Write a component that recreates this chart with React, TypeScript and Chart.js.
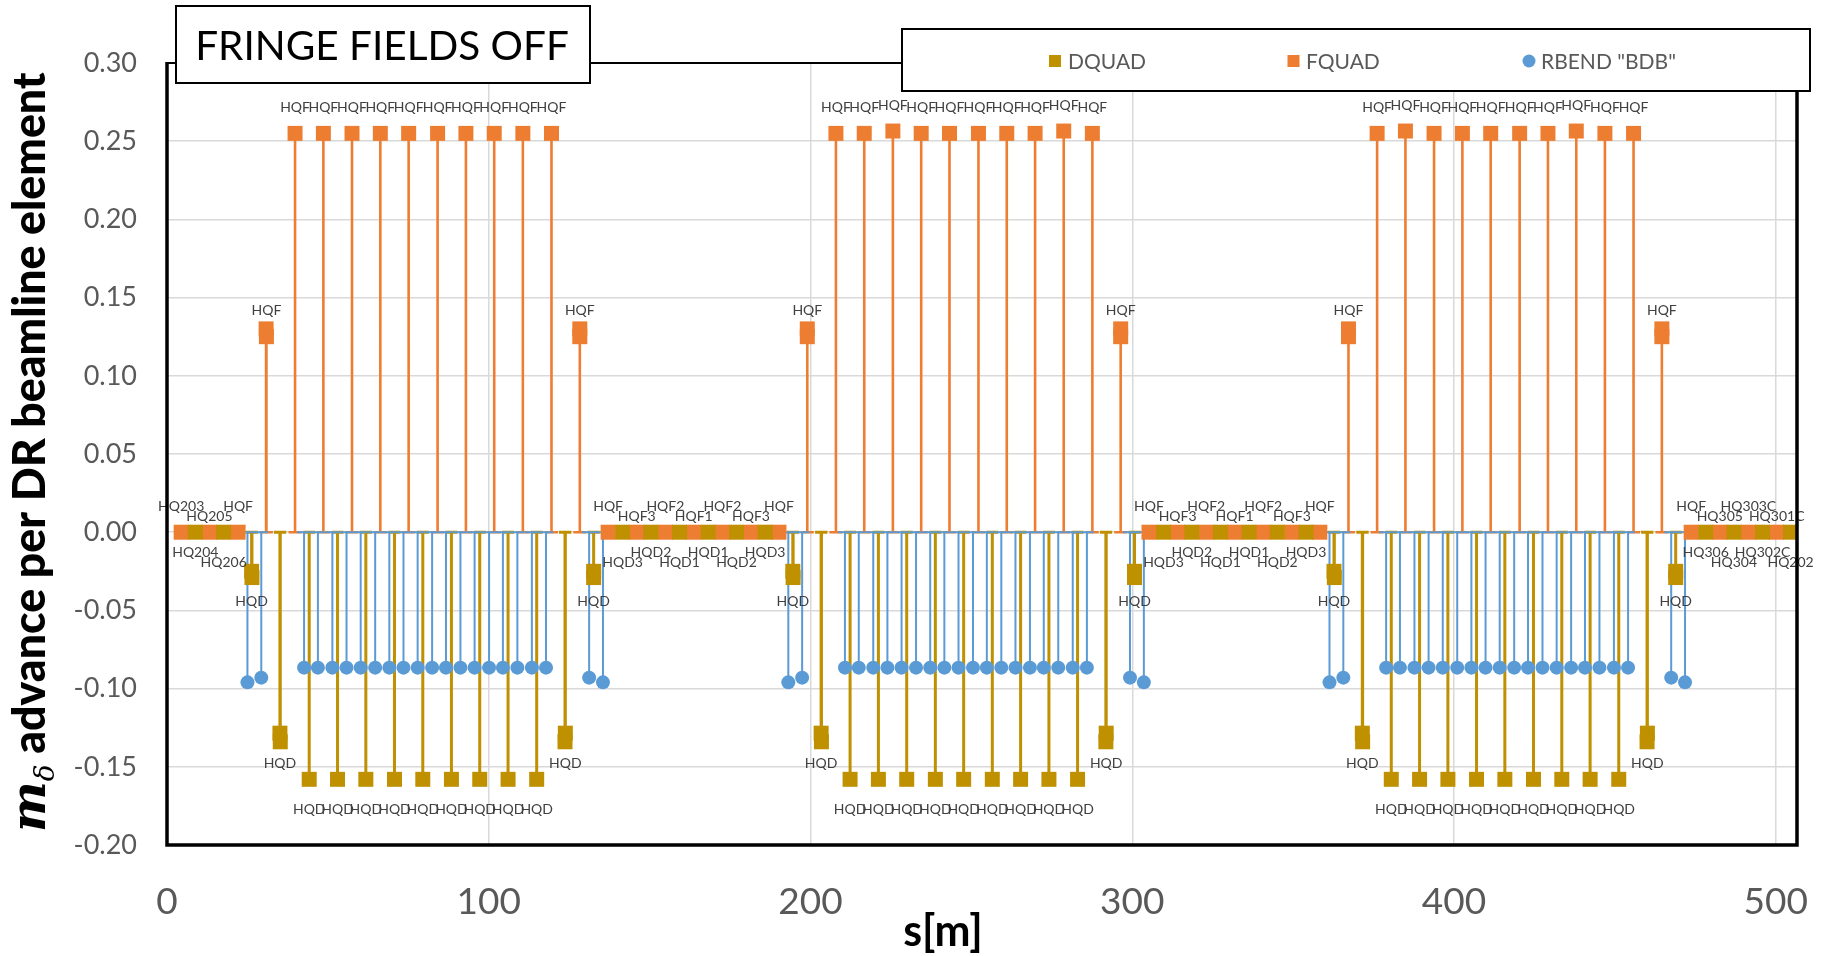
import React, { useEffect, useRef } from "react";
import { Chart, registerables } from "chart.js";

Chart.register(...registerables);

// ---------------- data ----------------
const xTickValues = [0, 100, 200, 300, 400, 500];
const yTickValues = [-0.2, -0.15, -0.1, -0.05, 0, 0.05, 0.1, 0.15, 0.2, 0.25, 0.3];

const seriesNames = ["DQUAD", "FQUAD", 'RBEND "BDB"'];
const chartTitle = "FRINGE FIELDS OFF";
const xTitle = "s[m]";
const yTitleSymbol = "m";
const yTitleSub = "δ";
const yTitleRest = " advance per DR beamline element";

// DQUAD (defocusing quads)
const dquadS = [
  8.8, 17.6,
  26.3, 26.4, 35.1, 35.2,
  44.2, 53.0, 61.8, 70.7, 79.5, 88.4, 97.2, 106.0, 114.9,
  123.8, 123.7, 132.6, 132.6,
  141.6, 150.4, 159.3, 168.2, 177.0, 185.9,
  194.5, 194.6, 203.3, 203.4,
  212.3, 221.1, 229.9, 238.8, 247.6, 256.5, 265.3, 274.1, 283.0,
  291.9, 291.8, 300.7, 300.7,
  309.7, 318.5, 327.4, 336.3, 345.1, 354.0,
  362.7, 362.8, 371.5, 371.6,
  380.5, 389.3, 398.1, 407.0, 415.8, 424.7, 433.5, 442.3, 451.2,
  460.1, 460.0, 468.9, 468.9,
  478.2, 487.0, 495.9, 504.6,
];
const dquadM = [
  0, 0,
  -0.025, -0.029, -0.1285, -0.134,
  -0.158, -0.158, -0.158, -0.158, -0.158, -0.158, -0.158, -0.158, -0.158,
  -0.1285, -0.134, -0.025, -0.029,
  0, 0, 0, 0, 0, 0,
  -0.025, -0.029, -0.1285, -0.134,
  -0.158, -0.158, -0.158, -0.158, -0.158, -0.158, -0.158, -0.158, -0.158,
  -0.1285, -0.134, -0.025, -0.029,
  0, 0, 0, 0, 0, 0,
  -0.025, -0.029, -0.1285, -0.134,
  -0.158, -0.158, -0.158, -0.158, -0.158, -0.158, -0.158, -0.158, -0.158,
  -0.1285, -0.134, -0.025, -0.029,
  0, 0, 0, 0,
];
const dquadNames = [
  "HQ204", "HQ206",
  "HQD", "", "HQD", "",
  "HQD", "HQD", "HQD", "HQD", "HQD", "HQD", "HQD", "HQD", "HQD",
  "HQD", "", "HQD", "",
  "HQD3", "HQD2", "HQD1", "HQD1", "HQD2", "HQD3",
  "HQD", "", "HQD", "",
  "HQD", "HQD", "HQD", "HQD", "HQD", "HQD", "HQD", "HQD", "HQD",
  "HQD", "", "HQD", "",
  "HQD3", "HQD2", "HQD1", "HQD1", "HQD2", "HQD3",
  "HQD", "", "HQD", "",
  "HQD", "HQD", "HQD", "HQD", "HQD", "HQD", "HQD", "HQD", "HQD",
  "HQD", "", "HQD", "",
  "HQ306", "HQ304", "HQ302C", "HQ202",
];
// label row: 1 = label sits closer to its marker (staggered labels)
const dquadLabelRows = [
  1, 0,
  0, 0, 0, 0,
  0, 0, 0, 0, 0, 0, 0, 0, 0,
  0, 0, 0, 0,
  0, 1, 0, 1, 0, 1,
  0, 0, 0, 0,
  0, 0, 0, 0, 0, 0, 0, 0, 0,
  0, 0, 0, 0,
  0, 1, 0, 1, 0, 1,
  0, 0, 0, 0,
  0, 0, 0, 0, 0, 0, 0, 0, 0,
  0, 0, 0, 0,
  1, 0, 1, 0,
];

// FQUAD (focusing quads)
const fquadS = [
  4.4, 13.2, 22.1,
  30.8, 30.9,
  39.8, 48.6, 57.5, 66.3, 75.1, 84.1, 92.9, 101.7, 110.6, 119.5,
  128.3, 128.3,
  137.1, 146.0, 154.9, 163.7, 172.6, 181.5, 190.2,
  199.0, 199.0,
  207.9, 216.7, 225.6, 234.4, 243.2, 252.2, 261.0, 269.8, 278.7, 287.6,
  296.4, 296.4,
  305.2, 314.1, 323.0, 331.8, 340.7, 349.6, 358.3,
  367.2, 367.2,
  376.1, 384.9, 393.8, 402.6, 411.4, 420.4, 429.2, 438.0, 446.9, 455.8,
  464.6, 464.6,
  473.7, 482.6, 491.5, 500.3,
];
const fquadM = [
  0, 0, 0,
  0.13, 0.125,
  0.255, 0.255, 0.255, 0.255, 0.255, 0.255, 0.255, 0.255, 0.255, 0.255,
  0.13, 0.125,
  0, 0, 0, 0, 0, 0, 0,
  0.13, 0.125,
  0.255, 0.255, 0.2565, 0.255, 0.255, 0.255, 0.255, 0.255, 0.2565, 0.255,
  0.13, 0.125,
  0, 0, 0, 0, 0, 0, 0,
  0.13, 0.125,
  0.255, 0.2565, 0.255, 0.255, 0.255, 0.255, 0.255, 0.2565, 0.255, 0.255,
  0.13, 0.125,
  0, 0, 0, 0,
];
const fquadNames = [
  "HQ203", "HQ205", "HQF",
  "", "HQF",
  "HQF", "HQF", "HQF", "HQF", "HQF", "HQF", "HQF", "HQF", "HQF", "HQF",
  "", "HQF",
  "HQF", "HQF3", "HQF2", "HQF1", "HQF2", "HQF3", "HQF",
  "", "HQF",
  "HQF", "HQF", "HQF", "HQF", "HQF", "HQF", "HQF", "HQF", "HQF", "HQF",
  "", "HQF",
  "HQF", "HQF3", "HQF2", "HQF1", "HQF2", "HQF3", "HQF",
  "", "HQF",
  "HQF", "HQF", "HQF", "HQF", "HQF", "HQF", "HQF", "HQF", "HQF", "HQF",
  "", "HQF",
  "HQF", "HQ305", "HQ303C", "HQ301C",
];
const fquadLabelRows = [
  0, 1, 0,
  0, 0,
  0, 0, 0, 0, 0, 0, 0, 0, 0, 0,
  0, 0,
  0, 1, 0, 1, 0, 1, 0,
  0, 0,
  0, 0, 0, 0, 0, 0, 0, 0, 0, 0,
  0, 0,
  0, 1, 0, 1, 0, 1, 0,
  0, 0,
  0, 0, 0, 0, 0, 0, 0, 0, 0, 0,
  0, 0,
  0, 1, 0, 1,
];

// RBEND "BDB" (dipoles)
const rbendS = [
  25.0, 29.3,
  42.6, 46.9, 51.4, 55.8, 60.2, 64.7, 69.1, 73.5, 77.9, 82.4, 86.7, 91.2, 95.6, 100.1, 104.4, 108.9, 113.4, 117.8,
  131.2, 135.5,
  193.1, 197.4,
  210.7, 215.0, 219.5, 223.9, 228.3, 232.8, 237.2, 241.6, 246.0, 250.5, 254.8, 259.3, 263.7, 268.2, 272.5, 277.0, 281.5, 285.9,
  299.3, 303.6,
  361.3, 365.6,
  378.9, 383.2, 387.7, 392.1, 396.5, 401.0, 405.4, 409.8, 414.2, 418.7, 423.0, 427.5, 431.9, 436.4, 440.7, 445.2, 449.7, 454.1,
  467.5, 471.8,
];
const rbendM = [
  -0.096, -0.093,
  -0.0866, -0.0866, -0.0866, -0.0866, -0.0866, -0.0866, -0.0866, -0.0866, -0.0866, -0.0866, -0.0866, -0.0866, -0.0866, -0.0866, -0.0866, -0.0866, -0.0866, -0.0866,
  -0.093, -0.096,
  -0.096, -0.093,
  -0.0866, -0.0866, -0.0866, -0.0866, -0.0866, -0.0866, -0.0866, -0.0866, -0.0866, -0.0866, -0.0866, -0.0866, -0.0866, -0.0866, -0.0866, -0.0866, -0.0866, -0.0866,
  -0.093, -0.096,
  -0.096, -0.093,
  -0.0866, -0.0866, -0.0866, -0.0866, -0.0866, -0.0866, -0.0866, -0.0866, -0.0866, -0.0866, -0.0866, -0.0866, -0.0866, -0.0866, -0.0866, -0.0866, -0.0866, -0.0866,
  -0.093, -0.096,
];

// ---------------- styles ----------------
const X_MIN = 0;
const X_MAX = 506.6;
const Y_MIN = -0.2;
const Y_MAX = 0.3;
const COLORS = { dquad: "#BF9000", fquad: "#ED7D31", rbend: "#5B9BD5" };
const FONT = "Lato, 'Open Sans', sans-serif";
const TICK_COLOR = "#595959";
const LABEL_COLOR = "#404040";

const toPoints = (xs: number[], ys: number[]) => xs.map((x, i) => ({ x, y: ys[i] }));

const stemPlugin = {
  id: "stems",
  beforeDatasetsDraw(chart: any) {
    const { ctx, scales } = chart;
    const xs = scales.x;
    const ys = scales.y;
    const y0 = ys.getPixelForValue(0);
    chart.data.datasets.forEach((ds: any) => {
      ctx.save();
      ctx.strokeStyle = ds.stemColor;
      ctx.lineWidth = ds.stemWidth;
      ctx.lineCap = "butt";
      ctx.beginPath();
      ds.data.forEach((p: any) => {
        if (p.y === 0) return;
        const px = xs.getPixelForValue(p.x);
        const py = ys.getPixelForValue(p.y);
        ctx.moveTo(px, py);
        ctx.lineTo(px, y0);
        ctx.moveTo(px - ds.capWidth / 2, y0);
        ctx.lineTo(px + ds.capWidth / 2, y0);
      });
      ctx.stroke();
      ctx.restore();
    });
  },
};

const labelPlugin = {
  id: "pointLabels",
  afterDatasetsDraw(chart: any) {
    const { ctx, scales } = chart;
    ctx.save();
    ctx.font = `14px ${FONT}`;
    ctx.fillStyle = LABEL_COLOR;
    ctx.textAlign = "center";
    ctx.textBaseline = "middle";
    chart.data.datasets.forEach((ds: any) => {
      if (!ds.names) return;
      ds.data.forEach((p: any, i: number) => {
        const name = ds.names[i];
        if (!name) return;
        const px = scales.x.getPixelForValue(p.x);
        const py = scales.y.getPixelForValue(p.y);
        const gap = ds.labelGap - (ds.labelRows[i] ? 10 : 0);
        ctx.fillText(name, px, py + ds.labelSide * gap);
      });
    });
    ctx.restore();
  },
};

const framePlugin = {
  id: "frame",
  afterDraw(chart: any) {
    const { ctx, chartArea } = chart;
    const { left, right, top, bottom } = chartArea;
    ctx.save();
    // plot area border
    ctx.strokeStyle = "#000";
    ctx.lineWidth = 2.2;
    ctx.beginPath();
    ctx.moveTo(left, top);
    ctx.lineTo(right, top);
    ctx.stroke();
    ctx.lineWidth = 3.5;
    ctx.beginPath();
    ctx.moveTo(left, top - 1);
    ctx.lineTo(left, bottom);
    ctx.lineTo(right, bottom);
    ctx.lineTo(right, top - 1);
    ctx.stroke();

    // title box
    ctx.fillStyle = "#fff";
    ctx.fillRect(176, 6, 414, 77);
    ctx.lineWidth = 2;
    ctx.strokeRect(176, 6, 414, 77);
    ctx.fillStyle = "#000";
    ctx.font = `40.5px ${FONT}`;
    ctx.textAlign = "center";
    ctx.textBaseline = "alphabetic";
    ctx.fillText(chartTitle, 382, 60);

    // legend box
    ctx.fillStyle = "#fff";
    ctx.fillRect(902, 29, 908, 62);
    ctx.strokeRect(902, 29, 908, 62);
    const legendItems = [
      { text: seriesNames[0], color: COLORS.dquad, shape: "rect", mx: 1055, tx: 1068 },
      { text: seriesNames[1], color: COLORS.fquad, shape: "rect", mx: 1293.5, tx: 1306 },
      { text: seriesNames[2], color: COLORS.rbend, shape: "circle", mx: 1529, tx: 1541 },
    ];
    ctx.font = `21px ${FONT}`;
    ctx.textAlign = "left";
    legendItems.forEach((it) => {
      ctx.fillStyle = it.color;
      if (it.shape === "rect") {
        ctx.fillRect(it.mx - 6, 55, 12, 12);
      } else {
        ctx.beginPath();
        ctx.arc(it.mx, 61, 6.5, 0, Math.PI * 2);
        ctx.fill();
      }
      ctx.fillStyle = TICK_COLOR;
      ctx.fillText(it.text, it.tx, 68.5);
    });

    // x axis title
    ctx.fillStyle = "#000";
    ctx.font = `bold 43px ${FONT}`;
    ctx.textAlign = "center";
    ctx.textBaseline = "middle";
    ctx.fillText(xTitle, 943, 932);

    // y axis title (rotated)
    ctx.translate(45, 452);
    ctx.rotate(-Math.PI / 2);
    ctx.textAlign = "left";
    ctx.textBaseline = "alphabetic";
    const mFont = `bold italic 48px "DejaVu Serif", serif`;
    const dFont = `italic 28px "DejaVu Serif", serif`;
    ctx.font = mFont;
    const wm = ctx.measureText(yTitleSymbol).width;
    ctx.font = dFont;
    const wd = ctx.measureText(yTitleSub).width;
    ctx.font = `900 40px ${FONT}`;
    const ws = ctx.measureText(yTitleRest).width;
    const total = 760;
    const size = (40 * (total - wm - wd)) / ws;
    let u = -total / 2;
    ctx.font = mFont;
    ctx.fillText(yTitleSymbol, u, 0);
    u += wm;
    ctx.font = dFont;
    ctx.fillText(yTitleSub, u, 9);
    u += wd;
    ctx.font = `900 ${size}px ${FONT}`;
    ctx.fillText(yTitleRest, u, 0);
    ctx.restore();
  },
};

export default function App() {
  const canvasRef = useRef<HTMLCanvasElement | null>(null);

  useEffect(() => {
    document.body.style.margin = "0";
    const canvas = canvasRef.current;
    if (!canvas) return;
    const chart = new Chart(canvas, {
      type: "scatter",
      data: {
        datasets: [
          {
            label: seriesNames[0],
            data: toPoints(dquadS, dquadM),
            backgroundColor: COLORS.dquad,
            borderColor: COLORS.dquad,
            pointStyle: "rect",
            pointRadius: 10.6,
            pointBorderWidth: 0,
            showLine: false,
            stemColor: COLORS.dquad,
            stemWidth: 3,
            capWidth: 12,
            names: dquadNames,
            labelRows: dquadLabelRows,
            labelSide: 1,
            labelGap: 30,
          } as any,
          {
            label: seriesNames[1],
            data: toPoints(fquadS, fquadM),
            backgroundColor: COLORS.fquad,
            borderColor: COLORS.fquad,
            pointStyle: "rect",
            pointRadius: 10.6,
            pointBorderWidth: 0,
            showLine: false,
            stemColor: COLORS.fquad,
            stemWidth: 2.6,
            capWidth: 13,
            names: fquadNames,
            labelRows: fquadLabelRows,
            labelSide: -1,
            labelGap: 26,
          } as any,
          {
            label: seriesNames[2],
            data: toPoints(rbendS, rbendM),
            backgroundColor: COLORS.rbend,
            borderColor: COLORS.rbend,
            pointStyle: "circle",
            pointRadius: 7,
            pointBorderWidth: 0,
            showLine: false,
            stemColor: COLORS.rbend,
            stemWidth: 2,
            capWidth: 14,
          } as any,
        ],
      },
      options: {
        responsive: false,
        animation: false,
        devicePixelRatio: 1,
        events: [],
        layout: { padding: { top: 63, right: 27, left: 0, bottom: 0 } },
        plugins: {
          legend: { display: false },
          tooltip: { enabled: false },
          title: { display: false },
        },
        elements: { point: { hoverRadius: 0 } },
        scales: {
          x: {
            type: "linear",
            min: X_MIN,
            max: X_MAX,
            afterFit: (s: any) => {
              s.height = 111;
              s.paddingLeft = 0;
              s.paddingRight = 0;
            },
            afterBuildTicks: (s: any) => {
              s.ticks = xTickValues.map((v) => ({ value: v }));
            },
            grid: { color: "#D9D9D9", lineWidth: 1.5, drawTicks: false },
            border: { display: false },
            ticks: {
              autoSkip: false,
              maxRotation: 0,
              padding: 35,
              color: TICK_COLOR,
              font: { family: FONT, size: 37, lineHeight: 1.2 },
              callback: (v: any) => String(v),
            },
          },
          y: {
            type: "linear",
            min: Y_MIN,
            max: Y_MAX,
            afterFit: (s: any) => {
              s.width = 167;
              s.paddingTop = 0;
              s.paddingBottom = 0;
            },
            afterBuildTicks: (s: any) => {
              s.ticks = yTickValues.map((v) => ({ value: v }));
            },
            grid: { color: "#D9D9D9", lineWidth: 1.5, drawTicks: false },
            border: { display: false },
            ticks: {
              padding: 30,
              color: TICK_COLOR,
              font: { family: FONT, size: 27 },
              callback: (v: any) => Number(v).toFixed(2),
            },
          },
        },
      },
      plugins: [stemPlugin, labelPlugin, framePlugin],
    });
    return () => chart.destroy();
  }, []);

  return (
    <div style={{ width: 1824, height: 956, background: "#fff" }}>
      <canvas ref={canvasRef} width={1824} height={956} style={{ display: "block" }} />
    </div>
  );
}
